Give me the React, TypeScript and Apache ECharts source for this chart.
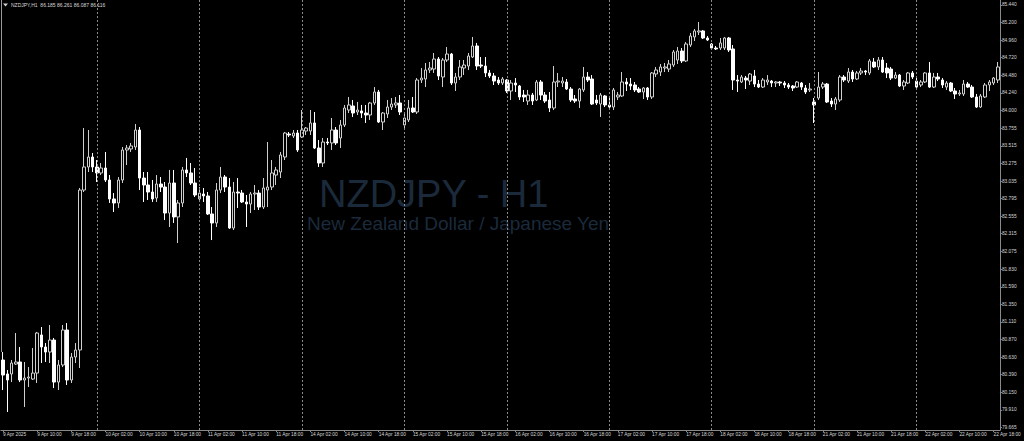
import React, { useEffect, useRef } from 'react';
import * as echarts from 'echarts';

// Trading days shown (H1 bars), first day starts at 02:00, last day ends at 19:00
const DAYS = ['9 Apr', '10 Apr', '11 Apr', '14 Apr', '15 Apr', '16 Apr', '17 Apr', '18 Apr', '21 Apr', '22 Apr'];
const FIRST_HOUR = 2;
const LAST_HOUR = 19;

const PRICE_TICKS = [85.44, 85.2, 84.96, 84.72, 84.48, 84.24, 84.0, 83.755, 83.515, 83.275, 83.035, 82.795, 82.555, 82.315, 82.075, 81.83, 81.59, 81.35, 81.11, 80.87, 80.63, 80.39, 80.15, 79.91, 79.665];
const PRICE_MIN = 79.634;
const PRICE_MAX = 85.508;

const HEADER = 'NZDJPY,H1  86.185 86.261 86.087 86.116';
const TITLE = 'NZDJPY - H1';
const SUBTITLE = 'New Zealand Dollar / Japanese Yen';

const opens = [
  80.590, 80.399, 80.399, 80.535, 80.563, 80.317, 80.344, 80.330, 80.412, 80.932,
  80.768, 80.699, 80.863, 80.289, 80.522, 81.000, 80.317, 80.631, 80.727, 82.912,
  83.227, 83.363, 83.227, 83.145, 83.213, 83.049, 82.790, 82.735, 83.049, 83.459,
  83.473, 83.500, 83.732, 83.076, 82.981, 82.885, 82.803, 82.994, 82.953, 82.598,
  83.008, 82.544, 82.735, 83.186, 83.145, 83.008, 82.790, 82.858, 82.831, 82.585,
  82.462, 82.912, 83.090, 82.953, 82.393, 82.885, 82.871, 82.749, 82.721, 82.858,
  82.871, 82.680, 82.912, 82.953, 83.117, 83.158, 83.363, 83.677, 83.650, 83.691,
  83.636, 83.718, 83.718, 83.828, 83.486, 83.281, 83.568, 83.555, 83.732, 83.623,
  83.800, 84.005, 84.060, 83.978, 83.992, 83.964, 83.937, 84.101, 84.251, 83.841,
  83.951, 84.046, 84.074, 84.101, 83.800, 83.869, 84.033, 83.978, 84.415, 84.429,
  84.552, 84.565, 84.702, 84.456, 84.688, 84.770, 84.374, 84.456, 84.579, 84.606,
  84.729, 84.880, 84.620, 84.606, 84.511, 84.470, 84.415, 84.374, 84.415, 84.265,
  84.374, 84.333, 84.210, 84.128, 84.210, 84.142, 84.388, 84.210, 84.142, 84.033,
  84.388, 84.374, 84.388, 84.292, 84.156, 84.128, 84.279, 84.456, 84.429, 84.142,
  84.087, 84.197, 84.074, 84.046, 84.183, 84.197, 84.388, 84.360, 84.347, 84.292,
  84.251, 84.306, 84.183, 84.497, 84.524, 84.579, 84.565, 84.620, 84.688, 84.811,
  84.675, 84.893, 85.003, 85.071, 85.085, 84.989, 84.907, 84.852, 84.852, 84.852,
  84.989, 84.839, 84.415, 84.388, 84.442, 84.401, 84.470, 84.360, 84.319, 84.388,
  84.401, 84.374, 84.388, 84.374, 84.347, 84.333, 84.319, 84.374, 84.306, 84.279,
  84.115, 84.169, 84.319, 84.360, 84.128, 84.087, 84.142, 84.456, 84.401, 84.524,
  84.429, 84.511, 84.538, 84.511, 84.661, 84.593, 84.688, 84.579, 84.565, 84.442,
  84.483, 84.333, 84.374, 84.511, 84.401, 84.347, 84.388, 84.511, 84.319, 84.456,
  84.415, 84.319, 84.374, 84.265, 84.224, 84.224, 84.360, 84.319, 84.183, 84.046,
  84.183, 84.347, 84.374, 84.415,
];

const closes = [
  80.385, 80.317, 80.549, 80.563, 80.317, 80.344, 80.358, 80.412, 80.959, 80.768,
  80.699, 80.863, 80.289, 80.522, 81.000, 80.317, 80.631, 80.727, 82.912, 83.227,
  83.363, 83.227, 83.145, 83.213, 83.049, 82.790, 82.735, 83.049, 83.459, 83.486,
  83.514, 83.732, 83.076, 82.981, 82.885, 82.790, 82.994, 82.953, 82.598, 83.008,
  82.544, 82.735, 83.186, 83.145, 83.008, 82.844, 82.871, 82.831, 82.585, 82.462,
  82.912, 83.090, 82.953, 82.393, 82.885, 82.871, 82.749, 82.721, 82.858, 82.871,
  82.680, 82.940, 82.953, 83.145, 83.186, 83.391, 83.691, 83.664, 83.691, 83.459,
  83.732, 83.759, 83.828, 83.486, 83.281, 83.568, 83.555, 83.732, 83.555, 83.800,
  84.033, 84.074, 83.964, 84.005, 83.964, 83.937, 84.101, 84.251, 83.841, 83.964,
  84.046, 84.087, 84.101, 83.978, 83.896, 84.033, 83.978, 84.415, 84.442, 84.552,
  84.579, 84.702, 84.470, 84.688, 84.770, 84.374, 84.456, 84.593, 84.620, 84.743,
  84.880, 84.606, 84.606, 84.511, 84.470, 84.401, 84.374, 84.429, 84.265, 84.374,
  84.347, 84.183, 84.183, 84.210, 84.128, 84.388, 84.210, 84.128, 84.033, 84.388,
  84.401, 84.401, 84.292, 84.142, 84.128, 84.292, 84.456, 84.415, 84.087, 84.101,
  84.210, 84.074, 84.046, 84.279, 84.210, 84.388, 84.360, 84.333, 84.279, 84.251,
  84.306, 84.183, 84.511, 84.552, 84.593, 84.593, 84.634, 84.798, 84.811, 84.675,
  84.907, 85.016, 85.085, 85.085, 84.989, 84.962, 84.852, 84.839, 84.921, 84.989,
  84.825, 84.415, 84.401, 84.456, 84.415, 84.497, 84.360, 84.319, 84.415, 84.415,
  84.374, 84.388, 84.374, 84.347, 84.319, 84.306, 84.388, 84.319, 84.251, 84.292,
  84.074, 84.319, 84.360, 84.115, 84.087, 84.156, 84.456, 84.415, 84.524, 84.429,
  84.511, 84.538, 84.524, 84.675, 84.593, 84.688, 84.524, 84.511, 84.442, 84.483,
  84.333, 84.388, 84.511, 84.456, 84.319, 84.388, 84.511, 84.319, 84.456, 84.429,
  84.347, 84.374, 84.265, 84.224, 84.238, 84.360, 84.319, 84.183, 84.046, 84.197,
  84.347, 84.388, 84.442, 84.593,
];

const lows = [
  80.180, 79.880, 80.289, 80.522, 80.289, 79.948, 80.221, 80.317, 80.276, 80.549,
  80.563, 80.549, 80.207, 80.180, 80.494, 80.249, 80.276, 80.549, 80.481, 82.885,
  83.158, 83.158, 83.022, 83.117, 83.022, 82.735, 82.612, 82.667, 83.008, 83.254,
  83.432, 83.459, 82.912, 82.749, 82.776, 82.749, 82.749, 82.885, 82.503, 82.407,
  82.462, 82.188, 82.680, 83.090, 82.981, 82.817, 82.749, 82.749, 82.571, 82.229,
  82.407, 82.871, 82.885, 82.380, 82.366, 82.667, 82.735, 82.407, 82.598, 82.639,
  82.639, 82.653, 82.680, 82.912, 82.981, 83.076, 83.322, 83.636, 83.623, 83.432,
  83.623, 83.664, 83.664, 83.473, 83.227, 83.227, 83.527, 83.459, 83.527, 83.486,
  83.773, 83.964, 83.910, 83.937, 83.896, 83.828, 83.869, 84.074, 83.828, 83.732,
  83.896, 84.005, 84.033, 83.937, 83.759, 83.841, 83.964, 83.951, 84.374, 84.319,
  84.511, 84.511, 84.415, 84.319, 84.661, 84.347, 84.265, 84.415, 84.483, 84.552,
  84.716, 84.552, 84.579, 84.456, 84.442, 84.347, 84.347, 84.347, 84.238, 84.142,
  84.251, 84.142, 84.115, 84.074, 84.074, 84.128, 84.142, 84.101, 83.978, 84.005,
  84.319, 84.319, 84.279, 84.115, 84.101, 84.033, 84.251, 84.388, 84.074, 84.074,
  83.910, 84.046, 84.005, 84.005, 84.142, 84.183, 84.265, 84.279, 84.251, 84.238,
  84.156, 84.142, 84.156, 84.456, 84.470, 84.524, 84.524, 84.593, 84.634, 84.647,
  84.661, 84.866, 84.948, 85.030, 84.975, 84.948, 84.839, 84.825, 84.825, 84.825,
  84.798, 84.279, 84.251, 84.374, 84.292, 84.347, 84.319, 84.306, 84.306, 84.347,
  84.319, 84.319, 84.333, 84.306, 84.292, 84.265, 84.306, 84.279, 84.224, 84.251,
  83.828, 84.142, 84.292, 84.101, 84.046, 84.005, 84.115, 84.388, 84.374, 84.388,
  84.415, 84.483, 84.483, 84.483, 84.579, 84.552, 84.511, 84.442, 84.415, 84.429,
  84.319, 84.279, 84.360, 84.429, 84.306, 84.319, 84.374, 84.306, 84.306, 84.401,
  84.306, 84.279, 84.251, 84.156, 84.197, 84.197, 84.306, 84.169, 84.033, 84.033,
  84.169, 84.265, 84.347, 84.374,
];

const highs = [
  80.699, 80.453, 80.590, 80.959, 80.768, 80.563, 80.494, 80.754, 80.973, 81.041,
  80.822, 81.068, 80.891, 80.590, 81.068, 81.095, 80.686, 80.822, 82.940, 83.759,
  83.732, 83.418, 83.322, 83.281, 83.432, 83.117, 82.871, 83.090, 83.500, 83.527,
  83.555, 83.814, 83.773, 83.158, 83.158, 83.049, 83.117, 83.090, 83.022, 83.186,
  83.186, 82.776, 83.227, 83.350, 83.281, 83.213, 82.953, 82.940, 82.885, 82.680,
  83.008, 83.227, 83.117, 83.076, 83.022, 83.076, 82.912, 82.844, 82.885, 82.981,
  82.912, 83.076, 83.568, 83.322, 83.227, 83.432, 83.705, 83.705, 83.732, 83.732,
  84.005, 83.773, 84.005, 83.978, 83.595, 83.623, 83.623, 83.896, 83.773, 83.869,
  84.074, 84.183, 84.142, 84.115, 84.074, 84.074, 84.115, 84.319, 84.279, 83.978,
  84.142, 84.169, 84.183, 84.210, 83.964, 84.142, 84.183, 84.442, 84.579, 84.647,
  84.661, 84.784, 84.729, 84.716, 84.866, 84.784, 84.511, 84.688, 84.688, 84.784,
  85.003, 84.921, 84.729, 84.729, 84.552, 84.511, 84.456, 84.456, 84.429, 84.415,
  84.442, 84.347, 84.279, 84.279, 84.238, 84.415, 84.415, 84.251, 84.251, 84.606,
  84.511, 84.456, 84.429, 84.319, 84.210, 84.306, 84.593, 84.524, 84.483, 84.210,
  84.238, 84.210, 84.169, 84.306, 84.251, 84.524, 84.442, 84.442, 84.388, 84.319,
  84.319, 84.319, 84.524, 84.593, 84.634, 84.647, 84.688, 84.825, 84.866, 84.852,
  84.934, 85.057, 85.112, 85.207, 85.098, 85.016, 84.921, 84.880, 84.989, 85.003,
  85.003, 84.893, 84.483, 84.483, 84.470, 84.511, 84.552, 84.415, 84.442, 84.483,
  84.415, 84.401, 84.401, 84.401, 84.374, 84.347, 84.401, 84.388, 84.347, 84.374,
  84.169, 84.524, 84.388, 84.374, 84.169, 84.183, 84.483, 84.483, 84.579, 84.552,
  84.538, 84.579, 84.552, 84.702, 84.716, 84.729, 84.729, 84.647, 84.593, 84.524,
  84.497, 84.415, 84.524, 84.538, 84.442, 84.415, 84.524, 84.661, 84.511, 84.511,
  84.442, 84.401, 84.388, 84.306, 84.279, 84.415, 84.388, 84.347, 84.224, 84.224,
  84.374, 84.415, 84.456, 84.661,
];

function buildCategories(): string[] {
  const out: string[] = [];
  DAYS.forEach((d, di) => {
    const start = di === 0 ? FIRST_HOUR : 0;
    const end = di === DAYS.length - 1 ? LAST_HOUR : 23;
    for (let h = start; h <= end; h++) {
      out.push(`${d} ${String(h).padStart(2, '0')}:00`);
    }
  });
  return out;
}

const categories = buildCategories();
const candles = categories.map((_, i) => [opens[i], closes[i], lows[i], highs[i]]);
const midnights = categories.filter((c) => c.endsWith(' 00:00'));

const FONT = '"Liberation Sans", Arial, sans-serif';

export default function App() {
  const ref = useRef<HTMLDivElement>(null);

  useEffect(() => {
    document.body.style.margin = '0';
    document.body.style.background = '#000';
    const chart = echarts.init(ref.current as HTMLDivElement, null, { renderer: 'svg' });
    const labelEvery = (index: number) => index % 8 === 0;
    chart.setOption({
      animation: false,
      backgroundColor: '#000000',
      grid: { left: 0, right: 22, top: 0, bottom: 11, containLabel: false },
      xAxis: {
        type: 'category',
        data: categories,
        boundaryGap: true,
        axisLine: { show: true, lineStyle: { color: '#8a8a8a', width: 1 } },
        axisTick: { show: true, interval: labelEvery, alignWithLabel: true, length: 2, lineStyle: { color: '#8a8a8a' } },
        axisLabel: {
          show: true,
          interval: labelEvery,
          formatter: (v: string, i: number) => (i === 0 ? '9 Apr 2025' : v),
          color: '#d8d8d8',
          fontSize: 4.8,
          fontFamily: FONT,
          align: 'left',
          margin: 2,
        },
        splitLine: { show: false },
      },
      yAxis: {
        type: 'value',
        position: 'right',
        min: PRICE_MIN,
        max: PRICE_MAX,
        scale: true,
        axisLine: { show: true, lineStyle: { color: '#8a8a8a', width: 1 } },
        axisTick: { show: true, customValues: PRICE_TICKS, length: 2, lineStyle: { color: '#8a8a8a' } },
        axisLabel: {
          show: true,
          customValues: PRICE_TICKS,
          formatter: (v: number) => v.toFixed(3),
          color: '#d8d8d8',
          fontSize: 4.8,
          fontFamily: FONT,
          margin: 2,
        },
        splitLine: { show: false },
      },
      graphic: [
        {
          type: 'text',
          x: 319,
          y: 194,
          z: -10,
          silent: true,
          style: { text: TITLE, fill: '#1b2a3b', font: `38px ${FONT}`, lineHeight: 28, align: 'left', verticalAlign: 'middle' },
        },
        {
          type: 'text',
          x: 307,
          y: 223.5,
          z: -10,
          silent: true,
          style: { text: SUBTITLE, fill: '#1b2a3b', font: `19px ${FONT}`, lineHeight: 17, align: 'left', verticalAlign: 'middle' },
        },
        {
          type: 'polygon',
          silent: true,
          shape: { points: [[3, 3.5], [8, 3.5], [5.5, 6.5]] },
          style: { fill: '#d0d0d0' },
        },
        {
          type: 'text',
          x: 11,
          y: 5,
          silent: true,
          style: { text: HEADER, fill: '#d8d8d8', font: `5px ${FONT}`, align: 'left', verticalAlign: 'middle' },
        },
        {
          type: 'line',
          silent: true,
          shape: { x1: 1.5, y1: 0, x2: 1.5, y2: 352 },
          style: { stroke: '#9a9a9a', lineWidth: 1 },
        },
      ],
      series: [
        {
          type: 'candlestick',
          data: candles,
          barWidth: 3,
          large: false,
          itemStyle: {
            color: '#000000',
            color0: '#ffffff',
            borderColor: '#cfcfcf',
            borderColor0: '#ffffff',
            borderWidth: 1,
          },
          markLine: {
            silent: true,
            symbol: ['none', 'none'],
            label: { show: false },
            lineStyle: { color: '#8c8c8c', type: [2, 2], width: 1 },
            data: midnights.map((m) => ({ xAxis: m })),
          },
        },
      ],
    });
    return () => chart.dispose();
  }, []);

  return (
    <div
      ref={ref}
      style={{ position: 'fixed', left: 0, top: 0, width: 1024, height: 441, background: '#000' }}
    />
  );
}
